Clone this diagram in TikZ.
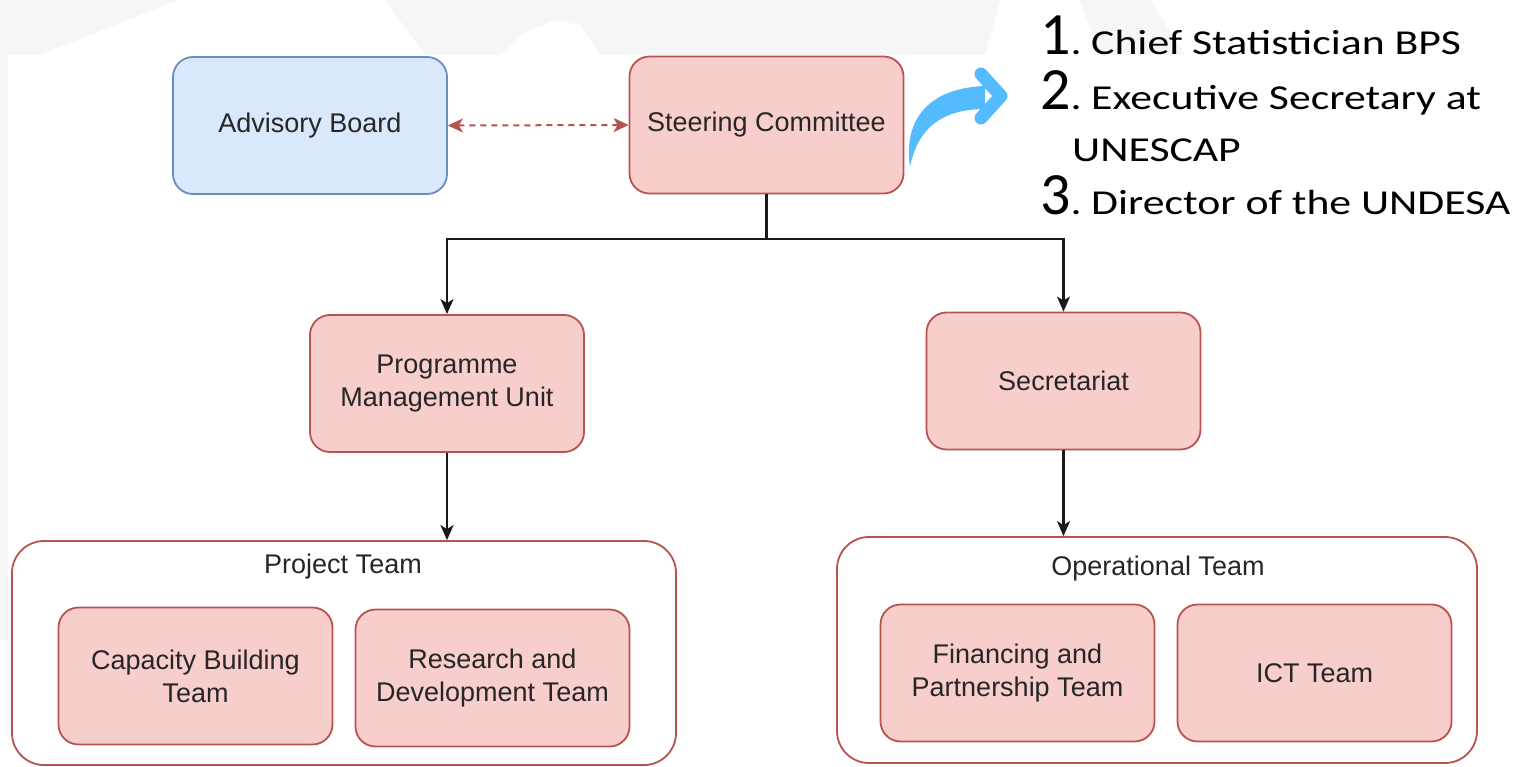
\documentclass[tikz,border=0pt]{standalone}
\usepackage{fontspec}
\setmainfont{Liberation Sans}
\newfontfamily\listfont[FakeStretch=1.25]{Carlito}
\newfontfamily\digitfont{Carlito}
\usetikzlibrary{arrows.meta}
\definecolor{rfill}{HTML}{F8CECC}
\definecolor{rline}{HTML}{B85450}
\definecolor{bfill}{HTML}{DAE8FC}
\definecolor{bline}{HTML}{6C8EBF}
\definecolor{arrowblue}{HTML}{55BBFF}
\definecolor{txt}{HTML}{262626}
\definecolor{wm}{HTML}{F6F6F6}
\newcommand\numsz{\digitfont\fontsize{60}{60}\selectfont}
\newcommand\lsz{\listfont\fontsize{35}{40}\selectfont}
\tikzset{
  rbox/.style={draw=rline, fill=rfill, line width=1.8pt, rounded corners=20pt,
    minimum width=274pt, minimum height=137pt, align=center, inner sep=0pt,
    font=\fontsize{27}{33}\selectfont, text=txt},
  bbox/.style={rbox, draw=bline, fill=bfill},
  cont/.style={draw=rline, fill=white, line width=1.8pt, rounded corners=32pt, inner sep=0pt},
  lbl/.style={font=\fontsize{27}{33}\selectfont, text=txt, inner sep=0pt},
  conn/.style={draw=black!90, line width=2.2pt},
  arr/.style={conn, -{Stealth[length=15pt,width=13pt,inset=4pt]}},
  darr/.style={draw=rline, line width=2pt, dash pattern=on 6pt off 5pt,
    {Stealth[length=15pt,width=14pt,inset=4pt]}-{Stealth[length=15pt,width=14pt,inset=4pt]}},
  litem/.style={anchor=base west, inner sep=0pt, text=black},
}
\begin{document}
\begin{tikzpicture}[x=1pt,y=-1pt]
\useasboundingbox (0,0) rectangle (1519,767);
\fill[white] (0,0) rectangle (1519,767);
% faint watermark shapes
\fill[wm] (0,0) -- (178,0) -- (40,55) -- (8,55) -- (8,640) -- (0,640) -- cycle;
\fill[wm] (385,0) -- (1000,0) -- (985,55) -- (600,55) -- (580,25) -- (555,20) -- (520,35) -- (500,55) -- (425,55) -- cycle;
\fill[wm] (1080,0) -- (1150,0) -- (1185,55) -- (1100,55) -- cycle;
\fill[white] (8,55) rectangle (1519,767);

% top row
\node[bbox] (adv) at (310,125.5) {Advisory Board};
\node[rbox] (steer) at (766.5,125) {Steering Committee};
\draw[darr] (adv.east) -- (steer.west);

% middle row
\node[rbox] (pmu) at (447,383.5) {Programme\\Management Unit};
\node[rbox] (sec) at (1063.5,381) {Secretariat};
\coordinate (split) at (766.5,239);
\draw[conn] (steer.south) -- (split);
\draw[arr] (split) -| (pmu.north);
\draw[arr] (split) -| (sec.north);

% containers
\node[cont, minimum width=664pt, minimum height=224pt] (proj) at (344,653) {};
\node[cont, minimum width=640pt, minimum height=226pt] (oper) at (1157,650) {};
\node[lbl] (projl) at (343,567) {Project Team};
\node[lbl] (operl) at (1158,569) {Operational Team};
\draw[arr] (pmu.south) -- (pmu.south |- proj.north);
\draw[arr] (sec.south) -- (sec.south |- oper.north);

% team boxes
\node[rbox] (cap) at (195.5,676) {Capacity Building\\Team};
\node[rbox] (rd) at (492.5,678) {Research and\\Development Team};
\node[rbox] (fin) at (1017.5,673) {Financing and\\Partnership Team};
\node[rbox] (ict) at (1314.5,673) {ICT Team};

% blue curved arrow
\fill[arrowblue] (910,167) .. controls (903,118) and (930,88) .. (985,86)
  -- (985,109) .. controls (946,109) and (918,125) .. cycle;
\draw[arrowblue, line width=13pt, line cap=round, line join=round]
  (981,74) -- (1001,96) -- (981,118);

% member list
\node[litem] (n1) at (1040,55) {\numsz 1\lsz.};
\node[litem] (t1) at (1091,55) {\lsz Chief Statistician BPS};
\node[litem] (n2) at (1040,110) {\numsz 2\lsz.};
\node[litem] (t2) at (1091,110) {\lsz Executive Secretary at};
\node[litem] (t2b) at (1072,162) {\lsz UNESCAP};
\node[litem] (n3) at (1040,215) {\numsz 3\lsz.};
\node[litem] (t3) at (1091,215) {\lsz Director of the UNDESA};
\end{tikzpicture}
\end{document}
